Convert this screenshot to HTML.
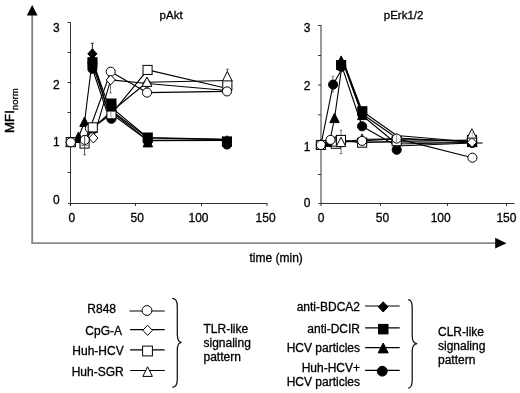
<!DOCTYPE html><html><head><meta charset="utf-8"><style>html,body{margin:0;padding:0;background:#fff;overflow:hidden}</style></head><body><svg width="520" height="393" viewBox="0 0 520 393" style="display:block">
<rect width="520" height="393" fill="#fff"/>
<line x1="32.2" y1="14" x2="32.2" y2="243.6" stroke="#808080" stroke-width="1.8"/>
<line x1="31.3" y1="243.2" x2="497" y2="243.2" stroke="#8a8a8a" stroke-width="1.8"/>
<polygon points="32.2,5 37.6,15.6 26.8,15.6" fill="#000"/>
<polygon points="506.5,243.2 495.2,237.8 495.2,248.6" fill="#000"/>
<text transform="translate(14.4,132.9) rotate(-90)" font-family="Liberation Sans, Arial, sans-serif" stroke="#000" stroke-width="0.45" font-size="13.2" fill="#000">MFI<tspan font-size="9.6" stroke-width="0.3" dy="3.3">norm</tspan></text>
<text x="249.5" y="262.3" font-family="Liberation Sans, Arial, sans-serif" stroke="#000" stroke-width="0.3" font-size="12" fill="#000">time (min)</text>
<line x1="70.5" y1="22.4" x2="70.5" y2="203.5" stroke="#333" stroke-width="1"/>
<line x1="68.0" y1="203.5" x2="267.3" y2="203.5" stroke="#333" stroke-width="1"/>
<line x1="67.5" y1="22.5" x2="70.5" y2="22.5" stroke="#333" stroke-width="1"/>
<line x1="67.5" y1="52.5" x2="70.5" y2="52.5" stroke="#333" stroke-width="1"/>
<line x1="67.5" y1="82.5" x2="70.5" y2="82.5" stroke="#333" stroke-width="1"/>
<line x1="67.5" y1="112.5" x2="70.5" y2="112.5" stroke="#333" stroke-width="1"/>
<line x1="67.5" y1="142.5" x2="70.5" y2="142.5" stroke="#333" stroke-width="1"/>
<line x1="67.5" y1="172.5" x2="70.5" y2="172.5" stroke="#333" stroke-width="1"/>
<line x1="70.5" y1="203.5" x2="70.5" y2="206.0" stroke="#333" stroke-width="1"/>
<line x1="135.5" y1="203.5" x2="135.5" y2="206.0" stroke="#333" stroke-width="1"/>
<line x1="201.5" y1="203.5" x2="201.5" y2="206.0" stroke="#333" stroke-width="1"/>
<line x1="267.0" y1="203.5" x2="267.0" y2="206.0" stroke="#333" stroke-width="1"/>
<text x="71.8" y="222.3" font-family="Liberation Sans, Arial, sans-serif" stroke="#000" stroke-width="0.3" font-size="12" text-anchor="middle" fill="#000">0</text>
<text x="137.2" y="222.3" font-family="Liberation Sans, Arial, sans-serif" stroke="#000" stroke-width="0.3" font-size="12" text-anchor="middle" fill="#000">50</text>
<text x="198.5" y="222.3" font-family="Liberation Sans, Arial, sans-serif" stroke="#000" stroke-width="0.3" font-size="12" text-anchor="middle" fill="#000">100</text>
<text x="265.6" y="222.3" font-family="Liberation Sans, Arial, sans-serif" stroke="#000" stroke-width="0.3" font-size="12" text-anchor="middle" fill="#000">150</text>
<text x="59.8" y="31.7" font-family="Liberation Sans, Arial, sans-serif" stroke="#000" stroke-width="0.3" font-size="12" text-anchor="end" fill="#000">3</text>
<text x="59.8" y="88.9" font-family="Liberation Sans, Arial, sans-serif" stroke="#000" stroke-width="0.3" font-size="12" text-anchor="end" fill="#000">2</text>
<text x="59.8" y="145.8" font-family="Liberation Sans, Arial, sans-serif" stroke="#000" stroke-width="0.3" font-size="12" text-anchor="end" fill="#000">1</text>
<text x="59.8" y="204" font-family="Liberation Sans, Arial, sans-serif" stroke="#000" stroke-width="0.3" font-size="12" text-anchor="end" fill="#000">0</text>
<line x1="321.0" y1="25.0" x2="321.0" y2="203.5" stroke="#333" stroke-width="1"/>
<line x1="318.5" y1="203.5" x2="514.6" y2="203.5" stroke="#333" stroke-width="1"/>
<line x1="318.0" y1="25.5" x2="321.0" y2="25.5" stroke="#333" stroke-width="1"/>
<line x1="318.0" y1="55.5" x2="321.0" y2="55.5" stroke="#333" stroke-width="1"/>
<line x1="318.0" y1="85.0" x2="321.0" y2="85.0" stroke="#333" stroke-width="1"/>
<line x1="318.0" y1="114.8" x2="321.0" y2="114.8" stroke="#333" stroke-width="1"/>
<line x1="318.0" y1="144.5" x2="321.0" y2="144.5" stroke="#333" stroke-width="1"/>
<line x1="318.0" y1="174.5" x2="321.0" y2="174.5" stroke="#333" stroke-width="1"/>
<line x1="321.0" y1="203.5" x2="321.0" y2="206.0" stroke="#333" stroke-width="1"/>
<line x1="380.5" y1="203.5" x2="380.5" y2="206.0" stroke="#333" stroke-width="1"/>
<line x1="447.5" y1="203.5" x2="447.5" y2="206.0" stroke="#333" stroke-width="1"/>
<line x1="506.5" y1="203.5" x2="506.5" y2="206.0" stroke="#333" stroke-width="1"/>
<text x="321.2" y="222.3" font-family="Liberation Sans, Arial, sans-serif" stroke="#000" stroke-width="0.3" font-size="12" text-anchor="middle" fill="#000">0</text>
<text x="382.5" y="222.3" font-family="Liberation Sans, Arial, sans-serif" stroke="#000" stroke-width="0.3" font-size="12" text-anchor="middle" fill="#000">50</text>
<text x="440.7" y="222.3" font-family="Liberation Sans, Arial, sans-serif" stroke="#000" stroke-width="0.3" font-size="12" text-anchor="middle" fill="#000">100</text>
<text x="506.4" y="222.3" font-family="Liberation Sans, Arial, sans-serif" stroke="#000" stroke-width="0.3" font-size="12" text-anchor="middle" fill="#000">150</text>
<text x="310.5" y="31.9" font-family="Liberation Sans, Arial, sans-serif" stroke="#000" stroke-width="0.3" font-size="12" text-anchor="end" fill="#000">3</text>
<text x="310.5" y="90.3" font-family="Liberation Sans, Arial, sans-serif" stroke="#000" stroke-width="0.3" font-size="12" text-anchor="end" fill="#000">2</text>
<text x="310.5" y="150.7" font-family="Liberation Sans, Arial, sans-serif" stroke="#000" stroke-width="0.3" font-size="12" text-anchor="end" fill="#000">1</text>
<text x="310.5" y="207" font-family="Liberation Sans, Arial, sans-serif" stroke="#000" stroke-width="0.3" font-size="12" text-anchor="end" fill="#000">0</text>
<text x="159.6" y="18.6" font-family="Liberation Sans, Arial, sans-serif" stroke="#000" stroke-width="0.3" font-size="11.5" fill="#000">pAkt</text>
<text x="383.8" y="19.2" font-family="Liberation Sans, Arial, sans-serif" stroke="#000" stroke-width="0.3" font-size="11.5" fill="#000">pErk1/2</text>
<line x1="92.4" y1="43.3" x2="92.4" y2="50.0" stroke="#222" stroke-width="1"/><line x1="91.0" y1="43.3" x2="93.8" y2="43.3" stroke="#222" stroke-width="1"/><line x1="91.0" y1="50.0" x2="93.8" y2="50.0" stroke="#222" stroke-width="1"/>
<line x1="110.5" y1="80.4" x2="110.5" y2="92.9" stroke="#777" stroke-width="1"/><line x1="109.2" y1="80.4" x2="111.8" y2="80.4" stroke="#777" stroke-width="1"/><line x1="109.2" y1="92.9" x2="111.8" y2="92.9" stroke="#777" stroke-width="1"/>
<line x1="227.4" y1="69.2" x2="227.4" y2="74.0" stroke="#444" stroke-width="1"/><line x1="226.2" y1="69.2" x2="228.6" y2="69.2" stroke="#444" stroke-width="1"/><line x1="226.2" y1="74.0" x2="228.6" y2="74.0" stroke="#444" stroke-width="1"/>
<line x1="341.0" y1="130.3" x2="341.0" y2="153.6" stroke="#777" stroke-width="1"/><line x1="339.7" y1="130.3" x2="342.3" y2="130.3" stroke="#777" stroke-width="1"/><line x1="339.7" y1="153.6" x2="342.3" y2="153.6" stroke="#777" stroke-width="1"/>
<line x1="332.9" y1="76.3" x2="332.9" y2="91.9" stroke="#777" stroke-width="1"/><line x1="331.6" y1="76.3" x2="334.2" y2="76.3" stroke="#777" stroke-width="1"/><line x1="331.6" y1="91.9" x2="334.2" y2="91.9" stroke="#777" stroke-width="1"/>
<polyline fill="none" stroke="#000" stroke-width="1.10" stroke-linejoin="round" points="93.2,71.0 106.3,110.0 147.8,140.6 227.0,140.4"/>
<polyline fill="none" stroke="#000" stroke-width="1.10" stroke-linejoin="round" points="70.8,142.3 78.5,137.2 84.5,122.3 92.4,59.0 107.0,108.0 147.8,140.4 227.0,140.0"/>
<polyline fill="none" stroke="#000" stroke-width="1.10" stroke-linejoin="round" points="96.2,71.0 108.3,105.0 147.8,137.6 227.0,139.3"/>
<polyline fill="none" stroke="#000" stroke-width="1.10" stroke-linejoin="round" points="94.7,71.0 107.3,107.5 147.8,138.0 227.0,139.6"/>
<polyline fill="none" stroke="#000" stroke-width="1.10" stroke-linejoin="round" points="70.8,142.3 78.5,142.0 84.8,141.0 92.5,128.5 111.4,111.5 147.0,82.3 227.3,80.5"/>
<polyline fill="none" stroke="#000" stroke-width="1.10" stroke-linejoin="round" points="70.8,142.3 78.5,142.0 84.8,141.0 93.4,138.1 110.7,79.9 147.0,83.5 227.0,90.5"/>
<polyline fill="none" stroke="#000" stroke-width="1.10" stroke-linejoin="round" points="70.8,142.3 78.5,141.5 84.8,139.9 90.0,128.5 110.7,71.7 147.0,92.6 227.0,91.4"/>
<polyline fill="none" stroke="#000" stroke-width="1.10" stroke-linejoin="round" points="70.8,142.2 78.5,142.5 84.5,143.6 92.7,127.3 111.4,114.2 147.6,69.9 227.3,88.5"/>
<polygon points="70.8,137.0 75.5,146.4 66.0,146.4" fill="#000" stroke="#000" stroke-width="1.0"/>
<polygon points="70.8,137.4 75.4,142.3 70.8,147.2 66.2,142.3" fill="#fff" stroke="#000" stroke-width="1.0"/>
<polygon points="70.8,137.0 75.5,146.4 66.0,146.4" fill="#fff" stroke="#000" stroke-width="1.0"/>
<polygon points="78.5,131.9 83.2,141.3 73.8,141.3" fill="#000" stroke="#000" stroke-width="1.0"/>
<polygon points="84.5,117.0 89.2,126.4 79.8,126.4" fill="#000" stroke="#000" stroke-width="1.0"/>
<circle cx="90.0" cy="128.5" r="4.55" fill="#fff" stroke="#000" stroke-width="1.0"/>
<polygon points="92.5,123.2 97.2,132.6 87.8,132.6" fill="#fff" stroke="#000" stroke-width="1.0"/>
<circle cx="92.4" cy="68.8" r="4.55" fill="#000" stroke="#000" stroke-width="1.0"/>
<polygon points="92.4,53.7 97.2,63.1 87.7,63.1" fill="#000" stroke="#000" stroke-width="1.0"/>
<rect x="87.9" y="57.7" width="9.1" height="9.1" fill="#000" stroke="#000" stroke-width="1.0"/>
<polygon points="92.4,48.9 97.0,53.8 92.4,58.7 87.8,53.8" fill="#000" stroke="#000" stroke-width="1.0"/>
<polygon points="93.4,133.2 98.0,138.1 93.4,143.0 88.8,138.1" fill="#fff" stroke="#000" stroke-width="1.0"/>
<rect x="88.2" y="122.8" width="9.1" height="9.1" fill="#fff" stroke="#000" stroke-width="1.0"/>
<polygon points="111.4,106.2 116.2,115.6 106.7,115.6" fill="#fff" stroke="#000" stroke-width="1.0"/>
<circle cx="111.4" cy="118.8" r="4.55" fill="#000" stroke="#000" stroke-width="1.0"/>
<rect x="106.9" y="109.7" width="9.1" height="9.1" fill="#fff" stroke="#000" stroke-width="1.0"/>
<polygon points="111.4,101.7 116.2,111.1 106.7,111.1" fill="#000" stroke="#000" stroke-width="1.0"/>
<polygon points="111.4,99.6 116.0,104.5 111.4,109.4 106.8,104.5" fill="#000" stroke="#000" stroke-width="1.0"/>
<rect x="106.9" y="99.0" width="9.1" height="9.1" fill="#000" stroke="#000" stroke-width="1.0"/>
<circle cx="110.7" cy="71.7" r="4.55" fill="#fff" stroke="#000" stroke-width="1.0"/>
<polygon points="110.7,75.0 115.3,79.9 110.7,84.8 106.1,79.9" fill="#fff" stroke="#000" stroke-width="1.0"/>
<circle cx="147.8" cy="141.0" r="4.55" fill="#000" stroke="#000" stroke-width="1.0"/>
<polygon points="147.8,137.5 152.6,146.9 143.1,146.9" fill="#000" stroke="#000" stroke-width="1.0"/>
<polygon points="147.8,133.1 152.4,138.0 147.8,142.9 143.2,138.0" fill="#000" stroke="#000" stroke-width="1.0"/>
<rect x="143.2" y="133.0" width="9.1" height="9.1" fill="#000" stroke="#000" stroke-width="1.0"/>
<polygon points="147.0,78.6 151.6,83.5 147.0,88.4 142.4,83.5" fill="#fff" stroke="#000" stroke-width="1.0"/>
<polygon points="147.0,77.0 151.8,86.4 142.2,86.4" fill="#fff" stroke="#000" stroke-width="1.0"/>
<rect x="143.0" y="65.4" width="9.1" height="9.1" fill="#fff" stroke="#000" stroke-width="1.0"/>
<circle cx="147.0" cy="92.6" r="4.55" fill="#fff" stroke="#000" stroke-width="1.0"/>
<circle cx="227.0" cy="144.5" r="4.55" fill="#000" stroke="#000" stroke-width="1.0"/>
<polygon points="227.0,135.7 231.8,145.1 222.2,145.1" fill="#000" stroke="#000" stroke-width="1.0"/>
<polygon points="227.0,136.6 231.6,141.5 227.0,146.4 222.4,141.5" fill="#000" stroke="#000" stroke-width="1.0"/>
<rect x="222.4" y="136.9" width="9.1" height="9.1" fill="#000" stroke="#000" stroke-width="1.0"/>
<polygon points="227.0,85.6 231.6,90.5 227.0,95.4 222.4,90.5" fill="#fff" stroke="#000" stroke-width="1.0"/>
<rect x="222.8" y="80.5" width="9.1" height="9.1" fill="#fff" stroke="#000" stroke-width="1.0"/>
<polygon points="227.3,71.5 232.1,80.9 222.6,80.9" fill="#fff" stroke="#000" stroke-width="1.0"/>
<circle cx="227.0" cy="91.4" r="4.55" fill="#fff" stroke="#000" stroke-width="1.0"/>
<rect x="66.2" y="137.6" width="9.1" height="9.1" fill="#fff" stroke="#000" stroke-width="1.0"/>
<circle cx="70.8" cy="142.3" r="4.55" fill="#fff" stroke="#000" stroke-width="1.0"/>
<rect x="80.0" y="139.0" width="9.1" height="9.1" fill="#fff" stroke="#000" stroke-width="1.0"/>
<circle cx="84.8" cy="139.9" r="4.55" fill="#fff" stroke="#000" stroke-width="1.0"/>
<polyline fill="none" stroke="#000" stroke-width="1.10" stroke-linejoin="round" points="320.9,145.0 333.1,84.6 342.5,68.0 362.1,126.3 396.7,146.0 472.2,143.0"/>
<polyline fill="none" stroke="#000" stroke-width="1.10" stroke-linejoin="round" points="320.9,145.0 329.5,142.3 334.5,118.5 342.6,61.2 362.3,115.5 396.7,144.0 472.2,142.5"/>
<polyline fill="none" stroke="#000" stroke-width="1.10" stroke-linejoin="round" points="345.5,67.0 362.3,111.2 396.7,135.5 472.2,142.0"/>
<polyline fill="none" stroke="#000" stroke-width="1.10" stroke-linejoin="round" points="345.0,67.0 362.3,114.0 396.7,138.0 472.2,142.0"/>
<polyline fill="none" stroke="#000" stroke-width="1.10" stroke-linejoin="round" points="320.9,145.0 330.5,142.0 336.0,142.0 341.0,142.5 362.1,139.2 396.7,139.0 471.9,141.0"/>
<polyline fill="none" stroke="#000" stroke-width="1.10" stroke-linejoin="round" points="320.9,145.0 330.5,141.0 336.0,142.5 341.0,141.5 362.1,142.0 396.7,142.0 472.0,142.3"/>
<polyline fill="none" stroke="#000" stroke-width="1.10" stroke-linejoin="round" points="320.9,145.0 330.5,139.9 336.0,141.5 340.5,141.0 362.1,140.9 396.7,138.6 472.4,157.7"/>
<polyline fill="none" stroke="#000" stroke-width="1.10" stroke-linejoin="round" points="320.9,145.0 330.5,143.0 335.8,143.8 341.0,140.0 362.1,142.7 396.7,141.2 472.0,140.0"/>
<circle cx="320.9" cy="145.0" r="4.55" fill="#000" stroke="#000" stroke-width="1.0"/>
<polygon points="320.9,139.7 325.6,149.1 316.1,149.1" fill="#000" stroke="#000" stroke-width="1.0"/>
<polygon points="320.9,140.1 325.5,145.0 320.9,149.9 316.3,145.0" fill="#fff" stroke="#000" stroke-width="1.0"/>
<polygon points="320.9,139.7 325.6,149.1 316.1,149.1" fill="#fff" stroke="#000" stroke-width="1.0"/>
<rect x="316.3" y="140.4" width="9.1" height="9.1" fill="#fff" stroke="#000" stroke-width="1.0"/>
<circle cx="320.9" cy="145.0" r="4.55" fill="#fff" stroke="#000" stroke-width="1.0"/>
<polygon points="329.5,137.0 334.2,146.4 324.8,146.4" fill="#000" stroke="#000" stroke-width="1.0"/>
<circle cx="333.1" cy="84.6" r="4.55" fill="#000" stroke="#000" stroke-width="1.0"/>
<polygon points="334.5,113.2 339.2,122.6 329.8,122.6" fill="#000" stroke="#000" stroke-width="1.0"/>
<circle cx="336.0" cy="141.5" r="4.55" fill="#fff" stroke="#000" stroke-width="1.0"/>
<rect x="331.2" y="139.2" width="9.1" height="9.1" fill="#fff" stroke="#000" stroke-width="1.0"/>
<polygon points="336.0,136.7 340.8,146.1 331.2,146.1" fill="#fff" stroke="#000" stroke-width="1.0"/>
<circle cx="340.5" cy="141.0" r="4.55" fill="#fff" stroke="#000" stroke-width="1.0"/>
<circle cx="341.2" cy="66.8" r="4.55" fill="#000" stroke="#000" stroke-width="1.0"/>
<polygon points="341.2,55.9 345.9,65.3 336.4,65.3" fill="#000" stroke="#000" stroke-width="1.0"/>
<polygon points="341.2,58.1 345.8,63.0 341.2,67.9 336.6,63.0" fill="#000" stroke="#000" stroke-width="1.0"/>
<rect x="336.6" y="60.5" width="9.1" height="9.1" fill="#000" stroke="#000" stroke-width="1.0"/>
<polygon points="362.1,137.1 366.7,142.0 362.1,146.9 357.5,142.0" fill="#fff" stroke="#000" stroke-width="1.0"/>
<rect x="357.6" y="138.1" width="9.1" height="9.1" fill="#fff" stroke="#000" stroke-width="1.0"/>
<polygon points="362.1,133.9 366.9,143.3 357.4,143.3" fill="#fff" stroke="#000" stroke-width="1.0"/>
<circle cx="362.1" cy="140.9" r="4.55" fill="#fff" stroke="#000" stroke-width="1.0"/>
<circle cx="362.1" cy="126.3" r="4.55" fill="#000" stroke="#000" stroke-width="1.0"/>
<polygon points="362.3,110.2 367.1,119.6 357.6,119.6" fill="#000" stroke="#000" stroke-width="1.0"/>
<polygon points="362.3,109.1 366.9,114.0 362.3,118.9 357.7,114.0" fill="#000" stroke="#000" stroke-width="1.0"/>
<rect x="357.8" y="106.7" width="9.1" height="9.1" fill="#000" stroke="#000" stroke-width="1.0"/>
<circle cx="396.7" cy="149.8" r="4.55" fill="#000" stroke="#000" stroke-width="1.0"/>
<polygon points="396.7,137.1 401.3,142.0 396.7,146.9 392.1,142.0" fill="#fff" stroke="#000" stroke-width="1.0"/>
<polygon points="396.7,133.7 401.4,143.1 391.9,143.1" fill="#fff" stroke="#000" stroke-width="1.0"/>
<rect x="392.1" y="136.6" width="9.1" height="9.1" fill="#fff" stroke="#000" stroke-width="1.0"/>
<circle cx="396.7" cy="138.6" r="4.55" fill="#fff" stroke="#000" stroke-width="1.0"/>
<circle cx="472.2" cy="143.0" r="4.55" fill="#000" stroke="#000" stroke-width="1.0"/>
<polygon points="472.2,137.2 476.9,146.6 467.4,146.6" fill="#000" stroke="#000" stroke-width="1.0"/>
<polygon points="472.2,137.1 476.8,142.0 472.2,146.9 467.6,142.0" fill="#000" stroke="#000" stroke-width="1.0"/>
<rect x="467.6" y="137.4" width="9.1" height="9.1" fill="#000" stroke="#000" stroke-width="1.0"/>
<rect x="467.4" y="135.4" width="9.1" height="9.1" fill="#fff" stroke="#000" stroke-width="1.0"/>
<polygon points="472.0,137.4 476.6,142.3 472.0,147.2 467.4,142.3" fill="#fff" stroke="#000" stroke-width="1.0"/>
<polygon points="471.9,128.7 476.6,138.1 467.1,138.1" fill="#fff" stroke="#000" stroke-width="1.0"/>
<circle cx="472.4" cy="157.7" r="4.55" fill="#fff" stroke="#000" stroke-width="1.0"/>
<circle cx="330.5" cy="139.9" r="4.55" fill="#fff" stroke="#000" stroke-width="1.0"/>
<rect x="336.4" y="135.4" width="9.1" height="9.1" fill="#fff" stroke="#000" stroke-width="1.0"/>
<polygon points="341.0,137.2 345.8,146.6 336.2,146.6" fill="#fff" stroke="#000" stroke-width="1.0"/>
<line x1="476.5" y1="143" x2="482.5" y2="143" stroke="#000" stroke-width="1.1"/>
<line x1="396.7" y1="133.5" x2="396.7" y2="143.5" stroke="#888" stroke-width="0.9"/>
<line x1="472.2" y1="129.5" x2="472.2" y2="140" stroke="#999" stroke-width="0.8"/>
<line x1="110.9" y1="111.5" x2="110.9" y2="117.5" stroke="#888" stroke-width="0.9"/>
<line x1="84.6" y1="135.8" x2="84.6" y2="154.8" stroke="#444" stroke-width="0.9"/>
<line x1="83.3" y1="154.8" x2="85.9" y2="154.8" stroke="#444" stroke-width="0.9"/>
<line x1="80.3" y1="145.3" x2="88.9" y2="145.3" stroke="#555" stroke-width="0.8"/>
<text x="116" y="313.1" font-family="Liberation Sans, Arial, sans-serif" stroke="#000" stroke-width="0.3" font-size="12" fill="#000" text-anchor="end">R848</text>
<text x="122" y="335" font-family="Liberation Sans, Arial, sans-serif" stroke="#000" stroke-width="0.3" font-size="12" fill="#000" text-anchor="end">CpG-A</text>
<text x="123.7" y="355" font-family="Liberation Sans, Arial, sans-serif" stroke="#000" stroke-width="0.3" font-size="12" fill="#000" text-anchor="end">Huh-HCV</text>
<text x="123.7" y="375.8" font-family="Liberation Sans, Arial, sans-serif" stroke="#000" stroke-width="0.3" font-size="12" fill="#000" text-anchor="end">Huh-SGR</text>
<line x1="129.5" y1="311" x2="164.7" y2="311" stroke="#000" stroke-width="1.15"/>
<circle cx="147.0" cy="310.5" r="4.91" fill="#fff" stroke="#000" stroke-width="1.0"/>
<line x1="130.1" y1="329.6" x2="164.7" y2="329.6" stroke="#000" stroke-width="1.15"/>
<polygon points="147.6,325.2 152.4,330.3 147.6,335.4 142.8,330.3" fill="#fff" stroke="#000" stroke-width="1.0"/>
<line x1="130.1" y1="349.9" x2="164.7" y2="349.9" stroke="#000" stroke-width="1.15"/>
<rect x="142.6" y="346.1" width="9.8" height="9.8" fill="#fff" stroke="#000" stroke-width="1.0"/>
<line x1="130.1" y1="370.5" x2="164.7" y2="370.5" stroke="#000" stroke-width="1.15"/>
<polygon points="147.6,366.8 152.4,376.4 142.8,376.4" fill="#fff" stroke="#000" stroke-width="1.0"/>
<text x="360" y="311.2" font-family="Liberation Sans, Arial, sans-serif" stroke="#000" stroke-width="0.3" font-size="12" fill="#000" text-anchor="end">anti-BDCA2</text>
<text x="360" y="332.7" font-family="Liberation Sans, Arial, sans-serif" stroke="#000" stroke-width="0.3" font-size="12" fill="#000" text-anchor="end">anti-DCIR</text>
<text x="360" y="352.4" font-family="Liberation Sans, Arial, sans-serif" stroke="#000" stroke-width="0.3" font-size="12" fill="#000" text-anchor="end">HCV particles</text>
<text x="360" y="371.7" font-family="Liberation Sans, Arial, sans-serif" stroke="#000" stroke-width="0.3" font-size="12" fill="#000" text-anchor="end">Huh-HCV+</text>
<text x="360" y="385.6" font-family="Liberation Sans, Arial, sans-serif" stroke="#000" stroke-width="0.3" font-size="12" fill="#000" text-anchor="end">HCV particles</text>
<line x1="365.1" y1="306.0" x2="399.7" y2="306.0" stroke="#000" stroke-width="1.15"/>
<polygon points="383.2,301.8 388.0,306.9 383.2,312.0 378.4,306.9" fill="#000" stroke="#000" stroke-width="1.0"/>
<line x1="365.1" y1="327.9" x2="399.7" y2="327.9" stroke="#000" stroke-width="1.15"/>
<rect x="378.5" y="324.4" width="9.5" height="9.5" fill="#000" stroke="#000" stroke-width="1.0"/>
<line x1="365.1" y1="347.6" x2="399.7" y2="347.6" stroke="#000" stroke-width="1.15"/>
<polygon points="383.2,343.0 388.2,352.9 378.2,352.9" fill="#000" stroke="#000" stroke-width="1.0"/>
<line x1="365.1" y1="370.3" x2="399.7" y2="370.3" stroke="#000" stroke-width="1.15"/>
<circle cx="382.3" cy="371.2" r="4.91" fill="#000" stroke="#000" stroke-width="1.0"/>
<path d="M172.2,298.3 C175.8,298.3 177.3,300.8 177.3,306.3 L177.3,334.3 C177.3,339.8 178.8,342.3 181.6,342.3 C178.8,342.3 177.3,344.8 177.3,350.3 L177.3,379.2 C177.3,384.7 175.8,387.2 172.2,387.2" fill="none" stroke="#111" stroke-width="1.25"/>
<path d="M408.2,299.5 C410.7,299.5 412.2,302.0 412.2,307.5 L412.2,335.6 C412.2,341.1 413.7,343.6 417.2,343.6 C413.7,343.6 412.2,346.1 412.2,351.6 L412.2,380.1 C412.2,385.6 410.7,388.1 408.2,388.1" fill="none" stroke="#111" stroke-width="1.25"/>
<text font-family="Liberation Sans, Arial, sans-serif" stroke="#000" stroke-width="0.3" font-size="12" fill="#000"><tspan x="203.5" y="332.5">TLR-like</tspan><tspan x="203.5" y="346.5">signaling</tspan><tspan x="203.5" y="360.8">pattern</tspan></text>
<text font-family="Liberation Sans, Arial, sans-serif" stroke="#000" stroke-width="0.3" font-size="12" fill="#000"><tspan x="438" y="335.6">CLR-like</tspan><tspan x="438" y="349.7">signaling</tspan><tspan x="438" y="363.7">pattern</tspan></text>
</svg></body></html>
